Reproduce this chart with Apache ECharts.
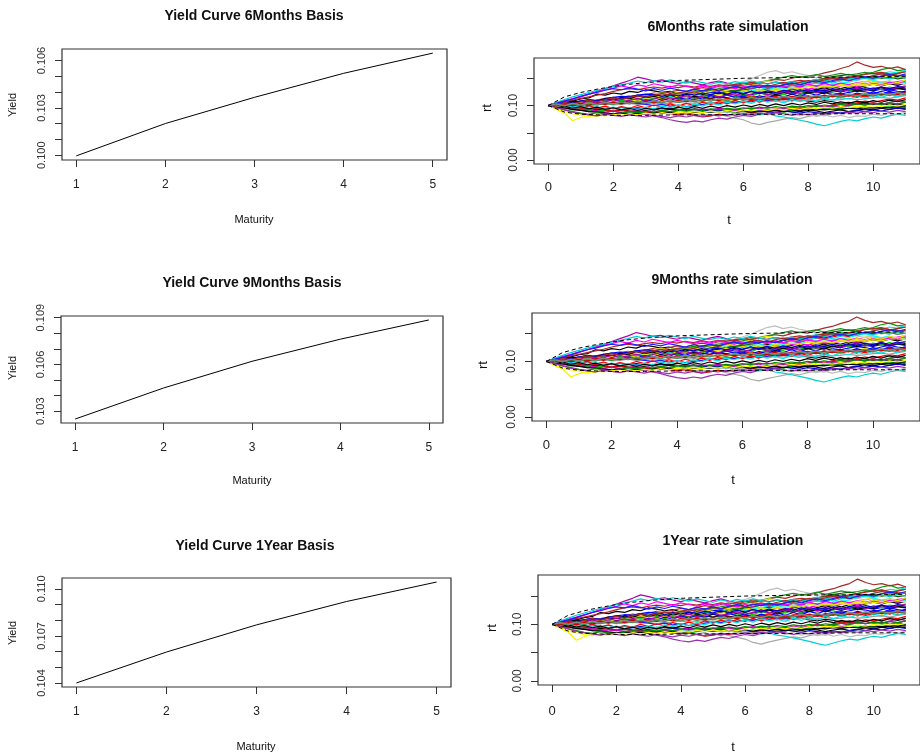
<!DOCTYPE html>
<html><head><meta charset="utf-8">
<script src="https://cdn.jsdelivr.net/npm/echarts@6/dist/echarts.min.js"></script>
<style>html,body{margin:0;padding:0;background:#fff}#c{width:920px;height:754px}</style>
</head><body><div id="c"></div>
<script>
// ---------- yield curves ----------
const maturities = [1, 2, 3, 4, 5];
const yield6M = [0.09996, 0.10201, 0.10367, 0.10519, 0.10647];
const yield9M = [0.10250, 0.10449, 0.10620, 0.10762, 0.10885];
const yield1Y = [0.10400, 0.10597, 0.10770, 0.10919, 0.11043];
const yieldTicks6M = [0.100, 0.101, 0.102, 0.103, 0.104, 0.105, 0.106];
const yieldLabels6M = [0.100, 0.103, 0.106];
const yieldTicks9M = [0.103, 0.104, 0.105, 0.106, 0.107, 0.108, 0.109];
const yieldLabels9M = [0.103, 0.106, 0.109];
const yieldTicks1Y = [0.104, 0.105, 0.106, 0.107, 0.108, 0.109, 0.110];
const yieldLabels1Y = [0.104, 0.107, 0.110];

// ---------- rate simulation (rt in thousandths) ----------
const simTimes = [0,0.25,0.5,0.75,1,1.25,1.5,1.75,2,2.25,2.5,2.75,3,3.25,3.5,3.75,4,4.25,4.5,4.75,5,5.25,5.5,5.75,6,6.25,6.5,6.75,7,7.25,7.5,7.75,8,8.25,8.5,8.75,9,9.25,9.5,9.75,10,10.25,10.5,10.75,11];
const path01 = [100,103,106,108,112,114,121,119,123,121, 126,124,129,127,124,126,122,125,121,124, 127,123,126,129,126,130,127,131,128,125, 129,132,129,133,130,134,131,135,132,136, 139,136,140,137,141];
const path02 = [100,98,102,105,103,107,110,108,112,115, 113,117,114,118,121,119,116,120,123,121, 125,122,126,129,127,131,128,132,135,133, 137,134,139,142,140,144,147,145,149,152, 150,154,157,153,156];
const path03 = [100,102,99,103,106,104,108,111,109,113, 116,114,118,115,119,122,120,124,127,125, 129,126,130,127,131,135,133,137,134,138, 142,139,143,147,145,149,152,150,155,158, 161,166,169,164,166];
const path04 = [100,101,104,102,106,109,107,111,114,112, 115,113,117,120,118,116,119,122,120,118, 121,124,122,119,117,120,123,121,118,121, 124,122,125,128,126,123,121,124,127,125, 122,126,129,126,124];
const path05 = [100,97,99,102,100,104,107,105,108,111, 109,112,115,113,117,114,118,121,119,122, 125,123,127,124,128,131,129,133,130,134, 137,135,139,142,144,141,145,148,152,150, 155,158,162,160,165];
const path06 = [100,104,108,112,116,121,126,131,136,141, 146,152,149,145,147,143,140,144,141,138, 142,145,141,138,135,139,136,133,137,134, 131,135,138,135,132,136,139,137,134,138, 141,138,142,139,143];
const path07 = [100,93,86,72,78,82,80,85,83,87, 90,88,92,95,93,97,100,98,103,106, 104,108,111,109,114,117,115,120,123,121, 126,129,127,132,135,133,138,141,139,144, 148,151,155,152,157];
const path08 = [100,98,95,97,93,95,91,93,90,92, 88,90,87,89,85,88,84,86,83,85, 81,84,80,77,74,68,65,69,72,75, 78,76,80,83,81,85,88,86,90,93, 91,95,98,96,100];
const path09 = [100,103,101,105,108,106,110,113,111,115, 118,116,120,123,121,125,128,126,130,133, 131,135,138,136,140,143,141,145,148,146, 150,153,151,156,160,163,168,172,180,174, 170,172,168,171,166];
const path10 = [100,97,94,96,92,89,91,87,85,88, 84,82,85,81,78,74,71,69,72,70, 74,77,75,79,82,80,84,87,85,89, 92,90,94,91,95,98,96,100,103,101, 105,102,106,109,107];
const path11 = [100,101,98,100,97,99,96,98,95,97, 94,96,93,95,92,94,91,89,92,88, 90,87,89,86,84,87,83,85,81,79, 76,73,70,66,63,67,71,74,72,76, 79,77,81,84,82];
const path12 = [100,98,96,94,92,90,93,91,89,92, 90,88,91,94,92,95,93,91,94,92, 89,92,90,93,91,88,91,89,92,94, 91,89,92,90,87,90,92,89,91,94, 92,95,93,96,94];
const path13 = [100,102,105,103,107,110,108,111,109,112, 110,113,116,114,111,114,112,109,112,115, 113,116,114,111,114,117,115,118,116,113, 116,119,117,114,117,120,118,121,119,116, 119,122,120,117,120];
const path14 = [100,97,95,92,94,91,89,92,90,87, 89,86,88,91,89,86,88,85,87,90, 88,91,89,86,89,92,90,93,91,88, 91,94,92,95,93,96,94,97,95,98, 96,99,97,100,98];
const path15 = [100,99,97,98,96,94,96,93,95,92, 94,96,94,92,95,93,91,94,92,90, 93,91,89,92,90,88,91,89,87,90, 88,86,89,87,85,88,86,89,91,89, 92,90,93,95,93];
const path16 = [100,102,100,103,105,103,106,108,106,109, 111,109,112,114,112,115,117,115,118,120, 118,121,123,121,124,126,124,127,129,127, 130,132,130,133,135,133,136,138,136,139, 141,139,142,144,146];
const path17 = [100,103,106,104,108,111,109,113,115,113, 117,119,117,121,123,121,124,126,124,128, 130,128,131,129,127,130,128,125,128,126, 123,126,124,121,124,122,119,122,120,123, 121,118,121,124,122];
const path18 = [100,102,104,102,106,108,106,110,112,110, 114,116,114,118,120,118,122,124,122,126, 130,133,137,140,144,149,155,161,164,159, 162,158,155,151,154,150,147,150,146,143, 146,142,145,141,139];
const path19 = [100,102,104,106,104,107,109,111,109,112, 114,112,115,117,115,118,116,114,117,115, 113,116,114,112,115,113,111,113,110,112, 109,111,108,106,109,107,104,106,103,105, 102,104,101,103,100];
const path20 = [100,98,96,98,95,93,95,92,90,92, 89,91,88,86,88,85,83,85,82,79, 81,84,82,85,88,86,89,92,90,93, 96,94,97,100,98,101,104,102,105,108, 106,109,112,110,114];
const path21 = [100,102,101,104,106,105,108,110,109,112, 114,113,116,118,117,120,123,122,125,128, 127,131,134,133,137,140,143,146,149,152, 155,152,154,157,153,156,159,156,158,161, 158,160,157,159,162];
const path22 = [100,103,102,106,108,110,109,113,115,117, 116,119,121,120,118,121,119,122,124,122, 125,123,121,124,126,124,122,125,123,126, 124,121,123,126,124,127,125,128,126,129, 127,130,128,131,129];
const path23 = [100,99,101,100,103,105,104,107,106,109, 111,110,113,112,115,117,116,119,118,121, 120,123,122,125,124,127,129,128,131,130, 133,132,135,137,136,139,141,143,147,150, 146,143,145,141,142];
const path24 = [100,97,95,93,91,93,90,88,90,87, 89,91,89,92,90,88,91,93,91,94, 92,95,93,91,94,96,94,97,95,93, 96,98,96,99,97,100,98,101,103,101, 104,102,105,103,106];
const path25 = [100,102,101,104,103,106,108,107,110,112, 111,114,116,115,118,120,119,122,124,123, 126,129,128,132,135,138,142,145,143,140, 137,139,136,133,136,134,137,135,138,136, 139,137,140,142,140];
const path26 = [100,101,99,100,102,100,101,103,101,102, 104,102,103,105,103,104,106,104,105,107, 105,106,108,106,107,109,107,108,110,108, 109,111,109,110,112,110,111,113,111,112, 114,115,113,116,118];
const path27 = [100,101,103,102,104,103,105,107,106,108, 107,109,111,110,112,114,113,116,118,117, 120,122,124,127,129,131,134,136,135,138, 140,142,145,147,150,153,155,157,154,151, 153,150,152,149,151];
const path28 = [100,98,96,93,91,89,88,86,85,86, 84,86,85,87,86,88,87,86,88,87, 89,88,90,89,87,89,88,90,91,89, 90,92,91,93,92,94,93,95,94,96, 95,97,96,98,97];
const path29 = [100,104,107,110,113,116,119,122,126,129, 131,129,132,134,132,135,133,136,134,137, 135,138,136,139,141,139,142,140,143,141, 144,146,144,147,149,151,149,152,154,157, 159,161,158,156,155];
const path30 = [100,102,104,106,108,110,109,111,110,108, 106,104,102,100,102,99,101,98,100,102, 104,103,106,105,108,107,110,109,112,111, 114,113,116,115,118,117,119,118,121,120, 122,121,124,123,125];
const path31 = [100,103,98,104,101,106,102,108,105,110, 107,112,108,114,110,115,111,117,113,116, 119,114,120,116,121,117,123,119,124,120, 126,121,127,123,128,125,130,126,131,128, 133,129,134,131,135];
const path32 = [100,97,102,99,104,100,106,103,108,104, 110,106,111,108,113,109,115,111,116,112, 118,114,119,115,117,113,118,114,120,116, 121,117,123,119,124,120,122,118,123,119, 125,121,126,122,127];
const path33 = [100,102,97,101,96,100,95,99,94,98, 95,100,96,101,97,103,99,104,100,106, 102,107,103,109,105,110,106,112,108,113, 109,115,111,116,112,118,114,119,115,121, 117,122,118,124,120];
const path34 = [100,104,103,108,105,110,107,113,109,115, 112,118,114,117,113,119,115,121,116,120, 118,123,119,124,121,126,122,125,120,124, 121,127,123,126,122,128,125,131,127,130, 128,133,129,132,130];
const path35 = [100,98,101,97,100,95,98,94,97,93, 96,92,97,94,99,96,101,97,103,99, 105,101,106,103,108,104,110,106,109,105, 111,107,112,108,114,110,115,112,117,113, 118,115,120,116,121];
const path36 = [100,105,109,113,117,121,125,129,132,136, 133,138,135,140,137,134,138,135,132,136, 133,137,134,131,135,132,136,133,137,134, 138,135,139,136,140,137,141,138,142,139, 143,140,144,141,145];
const path37 = [100,101,104,102,106,103,107,105,109,106, 111,108,113,110,115,112,118,115,120,117, 122,119,124,121,127,124,129,126,131,128, 133,130,135,132,137,134,139,136,141,138, 143,140,145,142,147];
const path38 = [100,97,99,95,98,94,97,93,96,92, 95,91,94,90,93,89,92,88,91,87, 90,86,89,85,88,84,87,83,86,82, 85,81,84,80,83,79,82,78,81,80, 84,82,86,84,88];
const path39 = [100,102,105,101,104,108,104,107,111,107, 110,113,109,112,116,112,115,118,114,117, 120,116,119,122,118,121,124,120,123,126, 122,125,128,124,127,130,126,129,132,128, 131,134,130,133,136];
const path40 = [100,96,92,89,86,84,87,85,83,86, 89,87,90,88,91,89,92,90,93,91, 94,92,95,93,96,94,97,95,98,96, 99,97,100,98,101,99,102,100,103,101, 104,102,105,103,106];
const path41 = [100,103,106,104,108,111,108,112,115,112, 116,119,116,120,117,121,118,122,119,123, 120,124,121,125,122,126,123,127,124,128, 125,129,126,130,127,131,128,132,129,133, 130,134,131,135,132];
const path42 = [100,99,103,100,104,101,105,102,106,103, 107,104,108,105,109,106,110,107,111,108, 112,109,113,110,114,111,115,112,116,113, 117,114,118,115,119,116,120,117,121,118, 122,119,123,120,124];
const path43 = [100,96,99,95,98,94,97,93,96,92, 95,91,95,92,96,93,97,94,98,95, 99,96,100,97,101,98,102,99,103,100, 104,101,105,102,106,103,107,104,108,105, 109,106,110,107,111];
const path44 = [100,106,111,116,120,124,128,131,135,138, 141,145,142,146,143,147,144,141,145,142, 139,143,140,144,141,145,142,139,143,140, 144,141,145,148,145,149,146,150,147,151, 148,152,149,153,150];
const path45 = [100,94,89,85,82,80,83,81,84,82, 85,83,86,84,87,85,88,86,89,87, 90,88,91,89,92,90,93,91,94,92, 95,93,96,94,97,95,98,96,99,97, 100,98,101,99,102];
const path46 = [100,102,106,103,107,110,107,111,114,111, 115,118,115,119,122,119,123,126,123,127, 130,127,131,134,131,135,138,135,139,142, 139,143,146,143,147,150,147,151,154,151, 155,158,155,159,162];
const path47 = [100,96,92,88,85,83,81,84,82,80, 83,81,79,82,80,78,81,79,82,80, 83,81,84,82,85,83,86,84,87,85, 82,85,83,86,84,87,85,88,86,89, 87,90,88,91,89];
const path48 = [100,102,99,103,100,104,101,105,102,106, 103,107,104,108,105,109,106,110,107,111, 108,112,109,113,110,114,111,115,112,116, 113,117,114,118,115,119,116,120,117,121, 118,122,119,123,120];
const path49 = [100,104,108,112,117,121,124,128,131,129, 133,130,127,131,128,132,129,126,130,127, 131,128,132,135,132,136,133,137,134,138, 141,138,142,145,142,146,149,146,150,153, 150,154,157,154,158];
const path50 = [100,103,100,104,101,105,102,106,103,107, 104,108,105,109,106,110,107,111,108,112, 109,113,110,114,111,115,112,116,113,117, 114,118,115,119,116,120,117,121,118,122, 119,123,120,124,121];
const bandTimes = [0, 0.5, 1, 1.5, 2, 2.5, 3, 4, 5, 6, 7, 8, 9, 10, 11];
const upperBand = [100, 116, 124, 130, 135, 139, 142, 146, 148, 150, 151, 152, 152, 153, 153];
const lowerBand = [100, 88, 84, 83, 82, 82, 82, 83, 83, 84, 84, 84, 85, 85, 85];
const simYTicks = [0, 0.05, 0.10, 0.15];
const simYLabels = [0, 0.10];
const simXTicks = [0, 2, 4, 6, 8, 10];

const paths = [path01,path02,path03,path04,path05,path06,path07,path08,path09,path10,
  path11,path12,path13,path14,path15,path16,path17,path18,path19,path20,
  path21,path22,path23,path24,path25,path26,path27,path28,path29,path30,
  path31,path32,path33,path34,path35,path36,path37,path38,path39,path40,
  path41,path42,path43,path44,path45,path46,path47,path48,path49,path50];
const pathColors = ['#000000','#FF0000','#009A00','#0000FF','#00E5EE','#B000B0','#F2F200','#A9A9A9','#A52A2A','#9B30B0',
  '#00CED1','#000000','#FF0000','#00CD00','#0000CD','#FF00FF','#F5E800','#BEBEBE','#111111','#DD0000',
  '#228B22','#0000FF','#00FFFF','#CD00CD','#EEEE00','#999999','#006400','#000000','#B22222','#1E1EFF',
  '#00CD00','#0000FF','#FF0000','#000000','#00E5EE','#FF00FF','#E8E800','#BEBEBE','#B000B0','#008B00',
  '#0000CD','#CC0000','#000000','#00CED1','#FFFF00','#A52A2A','#9B30B0','#228B22','#1E1EFF','#888888'];

// ---------- build ----------
const FONT = '"Liberation Sans", Arial, sans-serif';
const grids = [], xAxes = [], yAxes = [], series = [], texts = [];
function pad(lo, hi) { const r = hi - lo; return [lo - 0.04 * r, hi + 0.04 * r]; }
function addText(x, y, s, font, rot) {
  texts.push({ type: 'text', x: x, y: y, rotation: rot || 0, silent: true,
    style: { text: s, align: 'center', verticalAlign: 'middle', font: font, fill: '#111' } });
}
function axisPair(idx, grid, xr, yr, xTicks, xLabels, yTicks, yLabels, yFmt, xFont, yFont, xMargin, yMargin) {
  grids.push(Object.assign({ show: true, borderColor: '#333', borderWidth: 1.2, backgroundColor: 'transparent', containLabel: false }, grid));
  xAxes.push({ type: 'value', gridIndex: idx, min: xr[0], max: xr[1], position: 'bottom',
    axisLine: { show: false, onZero: false }, splitLine: { show: false },
    axisTick: { show: true, inside: false, length: 7, customValues: xTicks, lineStyle: { color: '#333' } },
    axisLabel: { customValues: xLabels, margin: xMargin, color: '#222', fontFamily: FONT, fontSize: xFont, formatter: v => String(v) } });
  yAxes.push({ type: 'value', gridIndex: idx, min: yr[0], max: yr[1], position: 'left',
    axisLine: { show: false, onZero: false }, splitLine: { show: false },
    axisTick: { show: true, inside: false, length: 7, customValues: yTicks, lineStyle: { color: '#333' } },
    axisLabel: { customValues: yLabels, margin: yMargin, rotate: 90, color: '#333', fontFamily: FONT, fontSize: yFont, formatter: yFmt } });
}

const yieldPanels = [
  { title: 'Yield Curve 6Months Basis', data: yield6M, ticks: yieldTicks6M, labels: yieldLabels6M,
    grid: { left: 62, top: 49, width: 385, height: 111 }, t: [254, 16], xn: [254, 220], yn: [13, 105] },
  { title: 'Yield Curve 9Months Basis', data: yield9M, ticks: yieldTicks9M, labels: yieldLabels9M,
    grid: { left: 61, top: 316, width: 382, height: 107 }, t: [252, 283], xn: [252, 481], yn: [13, 368] },
  { title: 'Yield Curve 1Year Basis', data: yield1Y, ticks: yieldTicks1Y, labels: yieldLabels1Y,
    grid: { left: 62, top: 578, width: 389, height: 109 }, t: [255, 546], xn: [256, 747], yn: [13, 633] }
];
const simPanels = [
  { title: '6Months rate simulation', grid: { left: 534, top: 58, width: 391, height: 106 }, t: [728, 27], xn: [729, 220], yn: [487, 108], xm: 17 },
  { title: '9Months rate simulation', grid: { left: 532, top: 313, width: 401, height: 108 }, t: [732, 280], xn: [733, 480], yn: [483, 365], xm: 18 },
  { title: '1Year rate simulation', grid: { left: 538, top: 575, width: 391, height: 110 }, t: [733, 541], xn: [733, 747], yn: [492, 628], xm: 20 }
];

let gi = 0;
yieldPanels.forEach(p => {
  const yr = pad(Math.min(...p.data), Math.max(...p.data));
  axisPair(gi, p.grid, pad(1, 5), yr, maturities, maturities, p.ticks, p.labels, v => v.toFixed(3), 12, 11, 19, 15);
  series.push({ type: 'line', xAxisIndex: gi, yAxisIndex: gi, symbol: 'none', silent: true,
    lineStyle: { color: '#000', width: 1 }, data: maturities.map((m, i) => [m, p.data[i]]) });
  addText(p.t[0], p.t[1], p.title, 'bold 14px ' + FONT);
  addText(p.xn[0], p.xn[1], 'Maturity', '11px ' + FONT);
  addText(p.yn[0], p.yn[1], 'Yield', '11px ' + FONT, Math.PI / 2);
  gi++;
});
const simMax = Math.max(...paths.map(a => Math.max(...a))) / 1000;
simPanels.forEach(p => {
  axisPair(gi, p.grid, pad(0, 11), pad(0, simMax), simXTicks, simXTicks, simYTicks, simYLabels, v => v.toFixed(2), 13, 12, p.xm, 14);
  paths.forEach((a, k) => {
    series.push({ type: 'line', xAxisIndex: gi, yAxisIndex: gi, symbol: 'none', silent: true, clip: true,
      lineStyle: { color: pathColors[k], width: 1.2 }, data: simTimes.map((t, i) => [t, a[i] / 1000]) });
  });
  [upperBand, lowerBand].forEach(b => {
    series.push({ type: 'line', xAxisIndex: gi, yAxisIndex: gi, symbol: 'none', silent: true,
      lineStyle: { color: '#000', width: 1, type: [4, 3] }, data: bandTimes.map((t, i) => [t, b[i] / 1000]) });
  });
  addText(p.t[0], p.t[1], p.title, 'bold 14px ' + FONT);
  addText(p.xn[0], p.xn[1], 't', '13px ' + FONT);
  addText(p.yn[0], p.yn[1], 'rt', '13px ' + FONT, Math.PI / 2);
  gi++;
});

const chart = echarts.init(document.getElementById('c'));
chart.setOption({
  animation: false,
  backgroundColor: '#fff',
  grid: grids, xAxis: xAxes, yAxis: yAxes, series: series,
  graphic: { elements: texts }
});
</script>
</body></html>
